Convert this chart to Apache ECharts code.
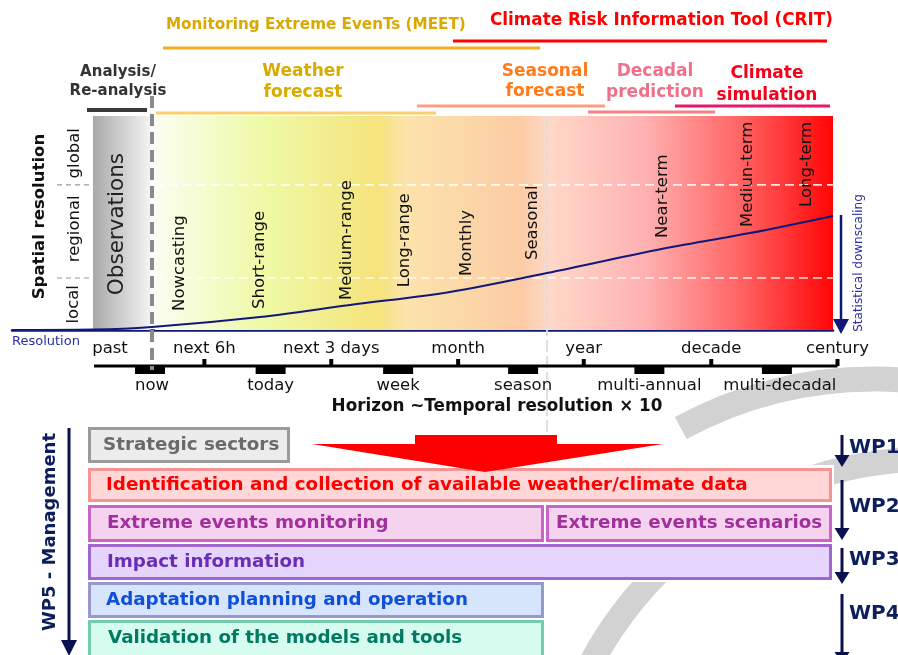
<!DOCTYPE html>
<html><head><meta charset="utf-8">
<script src="https://cdn.jsdelivr.net/npm/echarts@6/dist/echarts.min.js"></script>
<style>html,body{margin:0;padding:0;background:#fff}#c{width:898px;height:655px}</style>
</head><body><div id="c"></div>
<script>
// ---------------- data ----------------
// horizon positions in "steps" (0 = now)
const horizonTickLabels = ['next 6h', 'next 3 days', 'month', 'year', 'decade', 'century'];
const horizonTickPos = [0.87, 2.9, 4.93, 6.94, 8.98, 11];
const horizonBlockLabels = ['now', 'today', 'week', 'season', 'multi-annual', 'multi-decadal'];
const horizonBlockPos = [0, 1.93, 3.97, 5.97, 7.99, 10.03];
const pastPos = -0.64;
const forecastTypes = ['Nowcasting', 'Short-range', 'Medium-range', 'Long-range', 'Monthly', 'Seasonal', 'Near-term', 'Mediun-term', 'Long-term'];
const forecastTypePos = [0.48, 1.76, 3.15, 4.08, 5.07, 6.13, 8.21, 9.57, 10.51];
const forecastTypeLevel = [0.089, 0.098, 0.14, 0.2, 0.252, 0.327, 0.43, 0.481, 0.575];
const spatialLabels = ['local', 'regional', 'global'];
const spatialBounds = [0.243, 0.678];
// statistical downscaling curve (horizon step, resolution level)
const downscalingHorizon = [-2.21, -0.91, 0.03, 1.76, 3.2, 4.8, 6.35, 8.11, 9.6, 10.93];
const downscalingLevel = [0, 0.002, 0.014, 0.061, 0.117, 0.178, 0.266, 0.374, 0.453, 0.533];
const workPackages = ['WP1', 'WP2', 'WP3', 'WP4'];
const boxes = [
  'Strategic sectors',
  'Identification and collection of available weather/climate data',
  'Extreme events monitoring',
  'Extreme events scenarios',
  'Impact information',
  'Adaptation planning and operation',
  'Validation of the models and tools'
];

// ---------------- chart ----------------
const F = '"DejaVu Sans", Verdana, sans-serif';
const NAVY = '#10187a';
const chart = echarts.init(document.getElementById('c'), null, {renderer: 'canvas'});
chart.setOption({
  animation: false,
  grid: {left: 12, right: 65, top: 116, height: 214},
  xAxis: {type: 'value', min: -2.208, max: 10.928,
    axisLine: {show: true, onZero: false, lineStyle: {color: NAVY, width: 2.5}},
    axisTick: {show: false}, axisLabel: {show: false}, splitLine: {show: false}},
  yAxis: {type: 'value', min: 0, max: 1, show: false},
  series: [{type: 'line', data: downscalingHorizon.map((h, i) => [h, downscalingLevel[i]]),
    smooth: 0.35, symbol: 'none', lineStyle: {color: NAVY, width: 2}, z: 5}]
});

const px = p => chart.convertToPixel({gridIndex: 0}, [p, 0])[0];
const py = r => chart.convertToPixel({gridIndex: 0}, [0, r])[1];
const G = [];
function txt(x, y, text, o) {
  o = o || {};
  G.push({type: 'text', x: x, y: y, rotation: o.rot || 0, z: o.z || 20,
    style: {text: text, fill: o.color || '#111', font: (o.bold ? 'bold ' : '') + (o.size || 16) + 'px ' + F,
      align: o.align || 'left', textAlign: o.align || 'left',
      verticalAlign: 'middle', textVerticalAlign: 'middle'}});
}
function line(x1, y1, x2, y2, color, w, dash, z) {
  G.push({type: 'line', z: z || 3, shape: {x1, y1, x2, y2},
    style: {stroke: color, lineWidth: w, lineDash: dash || null}});
}
function rect(x, y, w, h, fill, stroke, lw, z) {
  G.push({type: 'rect', z: z || 1, shape: {x, y, width: w, height: h},
    style: {fill: fill, stroke: stroke || null, lineWidth: lw || 0}});
}
function poly(points, fill, z) {
  G.push({type: 'polygon', z: z || 4, shape: {points}, style: {fill}});
}

const top0 = py(1), bot0 = py(0), xr = px(10.928);
// observation strip
rect(93, top0, 57, bot0 - top0, new echarts.graphic.LinearGradient(0, 0, 1, 0, [
  {offset: 0, color: '#a9a9a9'}, {offset: 1, color: '#f3f3f3'}]), null, 0, 0);
// forecast gradient
rect(155, top0, xr - 155, bot0 - top0, new echarts.graphic.LinearGradient(0, 0, 1, 0, [
  {offset: 0, color: '#fbfdf0'}, {offset: 0.16, color: '#eefaa6'}, {offset: 0.33, color: '#f6e37c'},
  {offset: 0.37, color: '#fce3ac'}, {offset: 0.54, color: '#fbcca4'}, {offset: 0.58, color: '#fed9c8'},
  {offset: 0.72, color: '#ffb2b2'}, {offset: 0.86, color: '#ff6666'}, {offset: 1, color: '#ff0606'}]), null, 0, 0);
// spatial bounds
spatialBounds.forEach(b => {
  line(57, py(b), 93, py(b), '#9a9a9a', 1.2, [5, 4], 2);
  line(155, py(b), xr, py(b), 'rgba(255,255,255,0.85)', 1.6, [9, 5], 2);
});
txt(74, py(0.12), spatialLabels[0], {rot: Math.PI / 2, size: 16.5, align: 'center'});
txt(75, py(0.473), spatialLabels[1], {rot: Math.PI / 2, size: 16.5, align: 'center'});
txt(75, py(0.826), spatialLabels[2], {rot: Math.PI / 2, size: 16.5, align: 'center'});
txt(40, py(0.53), 'Spatial resolution', {rot: Math.PI / 2, size: 16.5, bold: true, align: 'center'});
txt(117, py(0.495), 'Observations', {rot: Math.PI / 2, size: 21.5, align: 'center', color: '#222'});
// vertical separators
line(547, top0, 547, 470, 'rgba(222,222,222,0.95)', 2, [12, 4], 2);
line(152, 96, 152, 370, '#8a8a8a', 4, [12, 6], 6);
// forecast type labels
forecastTypes.forEach((t, i) => {
  txt(px(forecastTypePos[i]), py(forecastTypeLevel[i]), t, {rot: Math.PI / 2, size: 16.5});
});
// statistical downscaling arrow
line(841, 215, 841, 322, NAVY, 2.5, null, 6);
poly([[833, 319], [849, 319], [841, 334]], NAVY, 6);
txt(859, 263, 'Statistical downscaling', {rot: Math.PI / 2, size: 12, color: '#2a2fa0', align: 'center'});
txt(12, 342, 'Resolution', {size: 13, color: '#2a2fa0'});

// timeline
line(94, 366, px(11), 366, '#000', 3, null, 5);
horizonTickPos.forEach((p, i) => {
  rect(px(p) - 2, 359, 4, 7, '#000', null, 0, 5);
  txt(px(p), 349, horizonTickLabels[i], {size: 16.5, align: 'center'});
});
horizonBlockPos.forEach((p, i) => {
  rect(px(p) - 15, 366, 30, 8, '#000', null, 0, 5);
  txt(px(p) + (i === 0 ? 2 : i === 5 ? 3 : 0), 386, horizonBlockLabels[i], {size: 16.5, align: 'center'});
});
txt(px(pastPos), 349, 'past', {size: 16.5, align: 'center'});
txt(497, 407, 'Horizon ~Temporal resolution \u00d7 10', {size: 16.8, bold: true, align: 'center'});

// headers
txt(166, 25, 'Monitoring Extreme EvenTs (MEET)', {size: 15.2, bold: true, color: '#dba800'});
line(163, 48, 540, 48, '#f4ae1e', 3);
txt(490, 21, 'Climate Risk Information Tool (CRIT)', {size: 16.8, bold: true, color: '#ff0000'});
line(453, 41, 827, 41, '#ff0000', 3);
txt(118, 72, 'Analysis/', {size: 15, bold: true, color: '#333', align: 'center'});
txt(118, 91, 'Re-analysis', {size: 15, bold: true, color: '#333', align: 'center'});
line(87, 110, 147, 110, '#3a3a3a', 4);
txt(303, 72, 'Weather', {size: 17, bold: true, color: '#d9ab00', align: 'center'});
txt(303, 93, 'forecast', {size: 17, bold: true, color: '#d9ab00', align: 'center'});
line(156, 113, 436, 113, '#fdcf6a', 3);
txt(545, 72, 'Seasonal', {size: 17, bold: true, color: '#ff7b1c', align: 'center'});
txt(545, 92, 'forecast', {size: 17, bold: true, color: '#ff7b1c', align: 'center'});
line(417, 106, 605, 106, '#f8a080', 3);
txt(655, 72, 'Decadal', {size: 17, bold: true, color: '#f0708a', align: 'center'});
txt(655, 93, 'prediction', {size: 17, bold: true, color: '#f0708a', align: 'center'});
line(588, 112, 715, 112, '#f88080', 3);
txt(767, 74, 'Climate', {size: 17, bold: true, color: '#f5001a', align: 'center'});
txt(767, 96, 'simulation', {size: 17, bold: true, color: '#f5001a', align: 'center'});
line(675, 106, 830, 106, '#e8186a', 3);

// gray cycle arcs
G.push({type: 'arc', z: 0, shape: {cx: 874, cy: 784, r: 405, startAngle: -118.5 * Math.PI / 180, endAngle: -60 * Math.PI / 180, clockwise: true},
  style: {stroke: '#d2d2d2', lineWidth: 25, fill: null}});
G.push({type: 'arc', z: 0, shape: {cx: 931, cy: 844, r: 385, startAngle: -165 * Math.PI / 180, endAngle: -60 * Math.PI / 180, clockwise: true},
  style: {stroke: '#d2d2d2', lineWidth: 25, fill: null}});
// white backing behind boxes
rect(86, 465, 748, 117, '#fff', null, 0, 1);
rect(86, 580, 460, 80, '#fff', null, 0, 1);

// red arrow
poly([[312, 444], [415, 444], [415, 435], [557, 435], [557, 444], [663, 444], [485, 472]], '#ff0000', 8);

// boxes
const bx = [
  [89.5, 428.5, 199, 33, '#ececec', '#9a9a9a', '#6a6a6a', 103],
  [89.5, 469.5, 741, 31, '#ffd7d7', '#f49494', '#ff0000', 106],
  [89.5, 506.5, 453, 34, '#f5d3ee', '#c766c7', '#a2309c', 107],
  [547.5, 506.5, 283, 34, '#f5d3ee', '#c766c7', '#a2309c', 556],
  [89.5, 545.5, 741, 33, '#e5d4fb', '#a066cc', '#6a2eb4', 107],
  [89.5, 583.5, 453, 33, '#d6e5fc', '#9898cc', '#1050d8', 106],
  [89.5, 621.5, 453, 40, '#d6fcf0', '#72cdb0', '#007a60', 108]
];
bx.forEach((b, i) => {
  rect(b[0], b[1], b[2], b[3], b[4], b[5], 3, 3);
  txt(b[7], i === 6 ? 638 : b[1] + b[3] / 2, boxes[i], {size: 18.3, bold: true, color: b[6], z: 9});
});

// work packages
const wp = [[435, 467, 448], [480, 540, 507], [548, 584, 560], [594, 664, 614]];
wp.forEach((w, i) => {
  line(842, w[0], 842, w[1] - 10, '#0a1050', 3, null, 6);
  poly([[834.5, w[1] - 12], [849.5, w[1] - 12], [842, w[1]]], '#0a1050', 6);
  txt(849, w[2], workPackages[i], {size: 20, bold: true, color: '#0c1f5c'});
});
line(69, 428, 69, 643, '#0a1050', 3, null, 6);
poly([[61, 640], [77, 640], [69, 656]], '#0a1050', 6);
txt(50, 532, 'WP5 - Management', {rot: Math.PI / 2, size: 18, bold: true, color: '#0c1f5c', align: 'center'});

chart.setOption({graphic: {elements: G}});
</script></body></html>
